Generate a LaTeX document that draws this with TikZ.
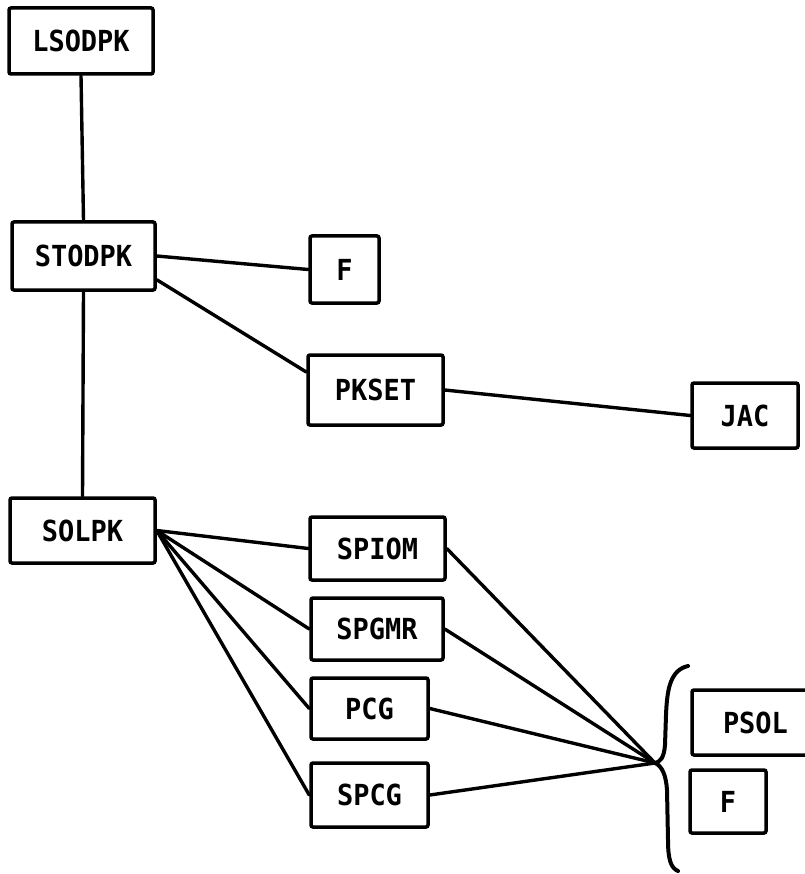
\documentclass[tikz,border=0pt]{standalone}
\usepackage{fontspec}
\newfontfamily\chartfont[FakeStretch=0.93]{DejaVu Sans Mono}
\begin{document}
\begin{tikzpicture}[x=1pt,y=-1pt,
  routine/.style={draw, line width=3.5pt, rounded corners=2pt, inner sep=0pt,
    font=\chartfont\bfseries\fontsize{29}{33}\selectfont},
  link/.style={line width=3.4pt, line cap=round}]
\useasboundingbox (0,0) rectangle (804,874);

% routine boxes
\node[routine, minimum width=144, minimum height=66] (lsodpk) at (81,41) {LSODPK};
\node[routine, minimum width=143, minimum height=68] (stodpk) at (83.5,256) {STODPK};
\node[routine, minimum width=69, minimum height=67] (fa) at (344.5,269.5) {F};
\node[routine, minimum width=135, minimum height=70] (pkset) at (375.5,390) {PKSET};
\node[routine, minimum width=106, minimum height=65] (jac) at (745,415.5) {JAC};
\node[routine, minimum width=145, minimum height=65] (solpk) at (82.5,530.5) {SOLPK};
\node[routine, minimum width=135, minimum height=63] (spiom) at (377.5,548.5) {SPIOM};
\node[routine, minimum width=132, minimum height=62] (spgmr) at (377,629) {SPGMR};
\node[routine, minimum width=117, minimum height=61] (pcg) at (369.5,708.5) {PCG};
\node[routine, minimum width=117, minimum height=64] (spcg) at (369.5,795) {SPCG};
\node[routine, minimum width=120, minimum height=65, text width=104, align=left] (psol) at (752,722.5) {\hspace{23pt}PSOL};
\node[routine, minimum width=76, minimum height=63] (fb) at (728,801.5) {F};

% call links
\draw[link] (lsodpk.south) -- (stodpk.north);
\draw[link] (stodpk.south) -- (solpk.north);
\draw[link] (stodpk.east) -- (fa.west);
\draw[link] ([yshift=12pt]stodpk.south east) -- ([yshift=18pt]pkset.west);
\draw[link] (pkset.east) -- (jac.west);
\foreach \t in {spiom,spgmr,pcg,spcg}
  \draw[link] (solpk.east) -- (\t.west);

% brace gathering the user-supplied routines
\coordinate (hub) at (655,763);
\foreach \t in {spiom,spgmr,pcg,spcg}
  \draw[link] (\t.east) -- (hub);
\draw[link, line width=4pt] (688,666) .. controls (670,670) and (667,690) .. (666,715)
  -- (665,745) .. controls (664,758) and (660,762) .. (hub)
  .. controls (662,766) and (666,775) .. (667,790)
  -- (668,840) .. controls (668,860) and (671,868) .. (678,871);
\end{tikzpicture}
\end{document}
